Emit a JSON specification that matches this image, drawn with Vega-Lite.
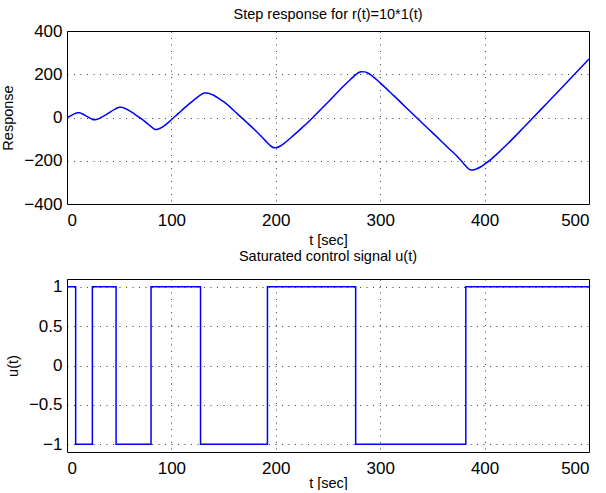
{
  "$schema": "https://vega.github.io/schema/vega-lite/v6.json",
  "padding": {"left": 0, "top": 6, "right": 0, "bottom": 0},
  "background": "white",
  "config": {
    "font": "Liberation Sans",
    "view": {"stroke": "black", "strokeWidth": 1},
    "axis": {
      "grid": true, "gridColor": "#000000", "gridOpacity": 0.75, "gridDash": [1, 5.5], "gridWidth": 1,
      "domain": false, "ticks": false, "tickSize": 0,
      "labelFont": "Liberation Sans", "labelFontSize": 17, "labelColor": "black", "labelPadding": 5,
      "titleFont": "Liberation Sans", "titleFontSize": 14.5, "titleFontWeight": "normal", "titleColor": "black", "titlePadding": 3
    },
    "axisX": {"labelPadding": 8},
    "axisY": {"titlePadding": 8},
    "title": {"font": "Liberation Sans", "fontSize": 14.5, "fontWeight": "normal", "color": "black", "frame": "group"},
    "concat": {"spacing": 1}
  },
  "datasets": {
    "resp": [
      {"t": 0, "y": 0}, {"t": 2, "y": 3.5}, {"t": 4, "y": 9}, {"t": 6, "y": 14.5}, {"t": 8, "y": 19}, {"t": 10, "y": 21.5},
      {"t": 12, "y": 21.5}, {"t": 14, "y": 18.5}, {"t": 17, "y": 11}, {"t": 20, "y": 2.5}, {"t": 23, "y": -5.5}, {"t": 25.9, "y": -10.5},
      {"t": 28, "y": -9.5}, {"t": 31, "y": -4}, {"t": 35, "y": 6}, {"t": 40, "y": 21}, {"t": 45, "y": 36}, {"t": 48, "y": 44},
      {"t": 50, "y": 47.5}, {"t": 52, "y": 47.5}, {"t": 55, "y": 43}, {"t": 60, "y": 31}, {"t": 65, "y": 15}, {"t": 70, "y": -2},
      {"t": 75, "y": -20}, {"t": 79, "y": -36}, {"t": 82, "y": -48}, {"t": 84.5, "y": -55}, {"t": 87, "y": -54}, {"t": 90, "y": -48},
      {"t": 94, "y": -35}, {"t": 98, "y": -19}, {"t": 102, "y": -1}, {"t": 107, "y": 20}, {"t": 112, "y": 42}, {"t": 117, "y": 63},
      {"t": 122, "y": 83}, {"t": 126, "y": 98}, {"t": 129, "y": 108}, {"t": 131.5, "y": 113.5}, {"t": 134, "y": 113.5}, {"t": 137, "y": 110},
      {"t": 140.4, "y": 103}, {"t": 145, "y": 90}, {"t": 150, "y": 73}, {"t": 156.3, "y": 48}, {"t": 163, "y": 18}, {"t": 172.3, "y": -23},
      {"t": 180, "y": -58}, {"t": 186, "y": -87}, {"t": 190, "y": -107}, {"t": 193, "y": -122}, {"t": 195, "y": -131}, {"t": 197, "y": -137.5},
      {"t": 199, "y": -140}, {"t": 201, "y": -139}, {"t": 204, "y": -133}, {"t": 208, "y": -120}, {"t": 214, "y": -95}, {"t": 223.4, "y": -55},
      {"t": 235, "y": -2}, {"t": 249, "y": 66}, {"t": 265, "y": 146}, {"t": 272, "y": 178}, {"t": 276.5, "y": 198}, {"t": 279, "y": 207},
      {"t": 282, "y": 212}, {"t": 285, "y": 211}, {"t": 288, "y": 206}, {"t": 292, "y": 194}, {"t": 300, "y": 160}, {"t": 313, "y": 101},
      {"t": 325.7, "y": 42}, {"t": 335, "y": -1}, {"t": 341.7, "y": -32}, {"t": 350, "y": -70}, {"t": 357.6, "y": -105}, {"t": 365, "y": -140},
      {"t": 373.6, "y": -179}, {"t": 378, "y": -202}, {"t": 381, "y": -219}, {"t": 383.5, "y": -232}, {"t": 386, "y": -242}, {"t": 388.5, "y": -243},
      {"t": 391, "y": -240}, {"t": 396, "y": -229}, {"t": 400, "y": -216}, {"t": 405.6, "y": -196}, {"t": 412, "y": -168}, {"t": 421.6, "y": -124},
      {"t": 437.6, "y": -45}, {"t": 445, "y": -8}, {"t": 458.3, "y": 59}, {"t": 470, "y": 118}, {"t": 480, "y": 169}, {"t": 490, "y": 220},
      {"t": 500, "y": 271}
    ],
    "ctrl": [
      {"t": 0, "u": 1}, {"t": 8.3, "u": -1}, {"t": 24.3, "u": 1}, {"t": 47, "u": -1}, {"t": 80.5, "u": 1},
      {"t": 127.9, "u": -1}, {"t": 192, "u": 1}, {"t": 276.5, "u": -1}, {"t": 382, "u": 1}, {"t": 500, "u": 1}
    ]
  },
  "vconcat": [
    {
      "width": 522, "height": 173,
      "title": {"text": "Step response for r(t)=10*1(t)", "offset": 0},
      "data": {"name": "resp"},
      "mark": {"type": "line", "color": "#0000ff", "strokeWidth": 1.5, "interpolate": "monotone", "clip": true},
      "encoding": {
        "x": {"field": "t", "type": "quantitative", "scale": {"domain": [0, 500], "nice": false},
              "axis": {"values": [0, 100, 200, 300, 400, 500], "title": "t [sec]", "titlePadding": 5}},
        "y": {"field": "y", "type": "quantitative", "scale": {"domain": [-400, 400], "nice": false},
              "axis": {"values": [-400, -200, 0, 200, 400], "title": "Response"}}
      }
    },
    {
      "width": 522, "height": 173,
      "title": {"text": "Saturated control signal u(t)", "offset": 13},
      "data": {"name": "ctrl"},
      "mark": {"type": "line", "color": "#0000ff", "strokeWidth": 1.5, "interpolate": "step-after", "clip": true},
      "encoding": {
        "x": {"field": "t", "type": "quantitative", "scale": {"domain": [0, 500], "nice": false},
              "axis": {"values": [0, 100, 200, 300, 400, 500], "title": "t [sec]", "titlePadding": 0}},
        "y": {"field": "u", "type": "quantitative", "scale": {"domain": [-1.1, 1.1], "nice": false, "zero": false},
              "axis": {"values": [-1, -0.5, 0, 0.5, 1], "format": "~g", "title": "u(t)"}}
      }
    }
  ]
}
